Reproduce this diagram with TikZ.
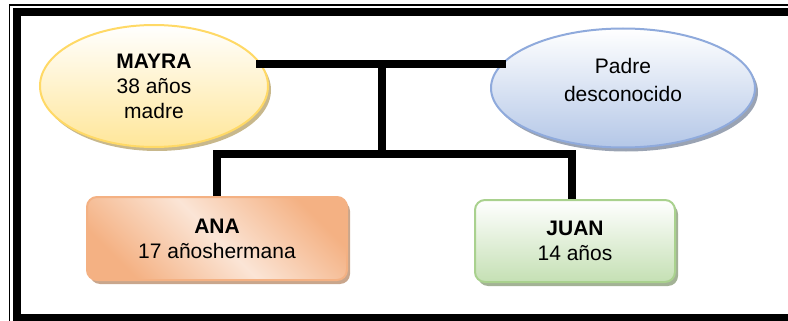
\documentclass[tikz,border=0pt]{standalone}
\usepackage{fontspec}
\setmainfont{Liberation Sans}
\usetikzlibrary{shapes.geometric, shadows, calc, positioning}
\definecolor{mayraline}{HTML}{FFD966}
\definecolor{mayrafill}{HTML}{FFE699}
\definecolor{mayrashadow}{HTML}{C8B88C}
\definecolor{padreline}{HTML}{8FAADC}
\definecolor{padrefill}{HTML}{B4C7E7}
\definecolor{padreshadow}{HTML}{9AA3B3}
\definecolor{analine}{HTML}{F4B183}
\definecolor{analight}{HTML}{FBE5D6}
\definecolor{anashadow}{HTML}{C9A68C}
\definecolor{juanline}{HTML}{A9D18E}
\definecolor{juanfill}{HTML}{C5E0B4}
\definecolor{juanshadow}{HTML}{A3B296}

\begin{document}
\begin{tikzpicture}[x=1pt, y=-1pt,
    font=\fontsize{21}{25}\selectfont,
    link/.style={line width=8pt, line join=miter},
    person/.style={align=center, inner sep=0pt, line width=2pt},
    oval/.style={person, ellipse},
    card/.style={person, rectangle, rounded corners=10pt}]
    % Page and clip
    \useasboundingbox (0,0) rectangle (788,321);
    \clip (0,0) rectangle (788,321);

    % Frame (right and bottom run off the page)
    \draw[line width=1.2pt] (9.5,5) rectangle (830,340);
    \draw[line width=8pt] (17,12.5) rectangle (820,318);

    % Parents
    \node[oval, draw=mayraline, top color=white, bottom color=mayrafill,
          minimum width=228, minimum height=122,
          drop shadow={shadow xshift=3pt, shadow yshift=-4pt, fill=mayrashadow, opacity=1}]
          (mayra) at (154,86) {\textbf{MAYRA}\\38 años\\madre};
    \node[oval, draw=padreline, top color=white, bottom color=padrefill,
          minimum width=264, minimum height=119, text depth=16pt,
          drop shadow={shadow xshift=3pt, shadow yshift=-4pt, fill=padreshadow, opacity=1}]
          (padre) at (623,88) {Padre\\[3pt]desconocido};

    % Children
    \node[card, draw=analine, top color=analine, bottom color=analine,
          middle color=analight, shading angle=-45,
          minimum width=260, minimum height=83,
          drop shadow={shadow xshift=3pt, shadow yshift=-4pt, fill=anashadow, opacity=1}]
          (ana) at (217,238.5) {\textbf{ANA}\\17 añoshermana};
    \node[card, draw=juanline, top color=white, bottom color=juanfill,
          minimum width=200, minimum height=82,
          drop shadow={shadow xshift=3pt, shadow yshift=-4pt, fill=juanshadow, opacity=1}]
          (juan) at (575,241) {\textbf{JUAN}\\14 años};

    % Connectors
    \coordinate (union) at (382,64);
    \coordinate (sibs) at (382,153.5);
    \draw[link] ($(mayra.east |- union)+(-13,0)$) -- ($(padre.west |- union)+(16,0)$);
    \draw[link] (union) -- (sibs);
    \draw[link] (ana.north) -- (ana.north |- sibs)
        -- ($(juan.north |- sibs)+(-3,0)$) -- ($(juan.north)+(-3,0)$);
\end{tikzpicture}
\end{document}
